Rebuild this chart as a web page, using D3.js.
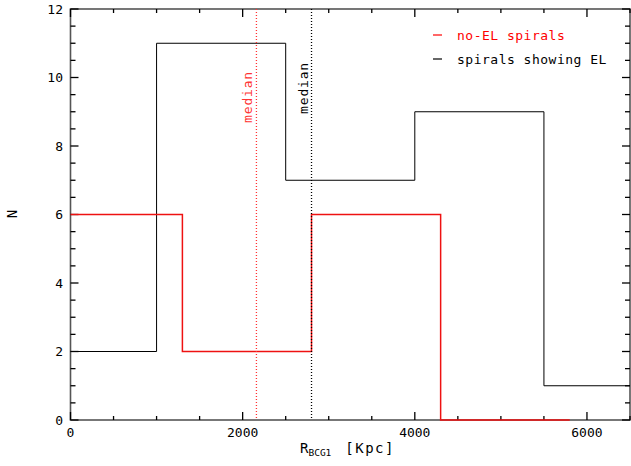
<!DOCTYPE html>
<html><head><meta charset="utf-8">
<script src="https://cdn.jsdelivr.net/npm/d3@7"></script>
<style>body{margin:0;background:#fff}svg{display:block}text{font-family:"DejaVu Sans Mono",monospace}</style>
</head><body><svg id="c" width="631" height="466"></svg>
<script>
const blackEdges = [0, 1000, 2500, 4000, 5500, 6500];
const blackCounts = [2, 11, 7, 9, 1];
const redEdges = [0, 1300, 2800, 4300, 5800];
const redCounts = [6, 2, 6, 0];
const medians = [{v: 2160, c: "#ff3333", label: "median"}, {v: 2800, c: "#000", label: "median"}];
const legendItems = [{label: "no-EL spirals", c: "#ff0000"}, {label: "spirals showing EL", c: "#000"}];
const xMajor = [0, 2000, 4000, 6000];
const yMajor = [0, 2, 4, 6, 8, 10, 12];

const svg = d3.select("#c");
const L = 70.5, R = 630, T = 9, B = 420;
const x = d3.scaleLinear().domain([0, 6500]).range([L, R]);
const y = d3.scaleLinear().domain([0, 12]).range([B, T]);

const xMinor = d3.range(0, 6501, 500).filter(v => v % 2000 !== 0);
const yMinor = d3.range(0, 12.01, 0.5).filter(v => v % 2 !== 0);

// frame
svg.append("rect").attr("x", L).attr("y", T).attr("width", R - L).attr("height", B - T)
  .attr("fill", "none").attr("stroke", "#555").attr("stroke-width", 1.6);

// ticks
const tk = svg.append("g").attr("stroke", "#000").attr("stroke-width", 1.3);
xMajor.forEach(v => { tk.append("line").attr("x1", x(v)).attr("x2", x(v)).attr("y1", B).attr("y2", B - 8);
  tk.append("line").attr("x1", x(v)).attr("x2", x(v)).attr("y1", T).attr("y2", T + 8); });
xMinor.forEach(v => { tk.append("line").attr("x1", x(v)).attr("x2", x(v)).attr("y1", B).attr("y2", B - 4);
  tk.append("line").attr("x1", x(v)).attr("x2", x(v)).attr("y1", T).attr("y2", T + 4); });
yMajor.forEach(v => { tk.append("line").attr("x1", L).attr("x2", L + 8).attr("y1", y(v)).attr("y2", y(v));
  tk.append("line").attr("x1", R).attr("x2", R - 8).attr("y1", y(v)).attr("y2", y(v)); });
yMinor.forEach(v => { tk.append("line").attr("x1", L).attr("x2", L + 5).attr("y1", y(v)).attr("y2", y(v));
  tk.append("line").attr("x1", R).attr("x2", R - 5).attr("y1", y(v)).attr("y2", y(v)); });

// histograms
function stepPts(edges, counts) {
  const pts = counts.map((c, i) => [edges[i], c]);
  pts.push([edges[edges.length - 1], counts[counts.length - 1]]);
  return pts;
}
const line = d3.line().x(d => x(d[0])).y(d => y(d[1])).curve(d3.curveStepAfter);
svg.append("path").attr("d", line(stepPts(blackEdges, blackCounts)))
  .attr("fill", "none").attr("stroke", "#000").attr("stroke-width", 1);
svg.append("path").attr("d", line(stepPts(redEdges, redCounts)))
  .attr("fill", "none").attr("stroke", "#ee1111").attr("stroke-width", 1.5);

// medians
medians.forEach((m, i) => {
  svg.append("line").attr("x1", x(m.v)).attr("x2", x(m.v)).attr("y1", T).attr("y2", B)
    .attr("stroke", m.c).attr("stroke-width", 1.3).attr("stroke-dasharray", "1,2");
  const tx = x(m.v) - 4, ty = i === 0 ? 97 : 88;
  svg.append("text").attr("transform", `translate(${tx},${ty}) rotate(-90)`)
    .attr("text-anchor", "middle").attr("font-size", 13).attr("letter-spacing", 0.8)
    .attr("fill", m.c).text(m.label);
});

// tick labels
svg.append("g").selectAll("text").data(xMajor).join("text")
  .attr("x", d => x(d)).attr("y", 437).attr("text-anchor", "middle").attr("font-size", 13)
  .attr("fill", "#000").text(d => d);
svg.append("g").selectAll("text").data(yMajor).join("text")
  .attr("x", 63).attr("y", d => y(d) + 4.5).attr("text-anchor", "end").attr("font-size", 13)
  .attr("fill", "#000").text(d => d);

// axis titles
const xt = svg.append("text").attr("x", 300).attr("y", 453).attr("font-size", 14).attr("fill", "#000");
xt.append("tspan").text("R");
xt.append("tspan").attr("font-size", 9.5).attr("dy", 3).text("BCG1");
xt.append("tspan").attr("dy", -3).attr("dx", 14).attr("letter-spacing", 1.5).text("[Kpc]");
svg.append("text").attr("transform", "translate(17,214) rotate(-90)").attr("text-anchor", "middle")
  .attr("font-size", 14).attr("fill", "#000").text("N");

// legend
legendItems.forEach((d, i) => {
  const ly = 35 + i * 24;
  svg.append("line").attr("x1", 433).attr("x2", 442).attr("y1", ly).attr("y2", ly)
    .attr("stroke", d.c).attr("stroke-width", 1.2);
  svg.append("text").attr("x", 457).attr("y", ly + 4.5).attr("font-size", 13).attr("letter-spacing", 0.5)
    .attr("fill", d.c).text(d.label);
});
</script></body></html>
